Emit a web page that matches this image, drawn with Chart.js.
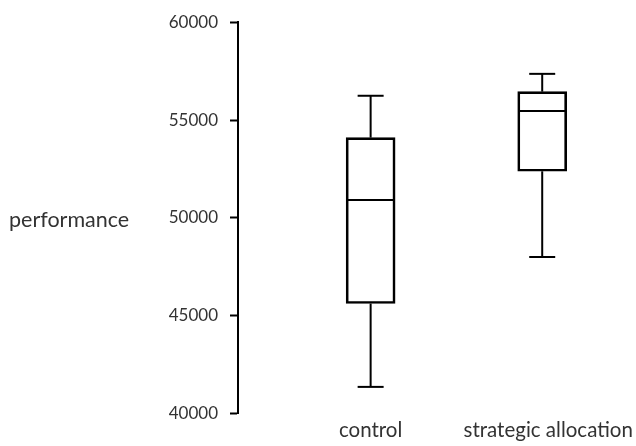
<!DOCTYPE html>
<html>
<head>
<meta charset="utf-8">
<script src="https://cdn.jsdelivr.net/npm/chart.js@4/dist/chart.umd.min.js"></script>
<style>
  html, body { margin: 0; padding: 0; background: #fff; }
  #wrap { width: 636px; height: 446px; position: relative; }
</style>
</head>
<body>
<div id="wrap"><canvas id="c" width="636" height="446"></canvas></div>
<script>
// Groups and their five-number summaries
const categories = ['control', 'strategic allocation'];
const whiskerLow = [41360, 48000];
const q1 = [45620, 52380];
const median = [50910, 55460];
const q3 = [54100, 56450];
const whiskerHigh = [56240, 57360];
const yTicks = [40000, 45000, 50000, 55000, 60000];
const yTitle = 'performance';

const FAMILY = 'Lato, "Open Sans", sans-serif';
const TICK_FONT = { family: FAMILY, size: 17 };
const LABEL_FONT = { family: FAMILY, size: 20.5 };
const TEXT = '#333';

// Whiskers, caps and median lines, drawn on top of the boxes
const boxExtras = {
  id: 'boxExtras',
  afterDatasetsDraw(chart) {
    const { ctx, scales: { x, y } } = chart;
    const boxW = 48, capW = 26;
    ctx.save();
    ctx.strokeStyle = '#000';
    ctx.lineWidth = 2;
    ctx.lineCap = 'butt';
    categories.forEach((_, i) => {
      const cx = x.getPixelForValue(i);
      const seg = (x1, y1, x2, y2) => { ctx.beginPath(); ctx.moveTo(x1, y1); ctx.lineTo(x2, y2); ctx.stroke(); };
      // upper whisker + cap
      seg(cx, y.getPixelForValue(q3[i]), cx, y.getPixelForValue(whiskerHigh[i]));
      seg(cx - capW / 2, y.getPixelForValue(whiskerHigh[i]), cx + capW / 2, y.getPixelForValue(whiskerHigh[i]));
      // lower whisker + cap
      seg(cx, y.getPixelForValue(q1[i]), cx, y.getPixelForValue(whiskerLow[i]));
      seg(cx - capW / 2, y.getPixelForValue(whiskerLow[i]), cx + capW / 2, y.getPixelForValue(whiskerLow[i]));
      // median
      seg(cx - boxW / 2, y.getPixelForValue(median[i]), cx + boxW / 2, y.getPixelForValue(median[i]));
    });
    ctx.restore();
  }
};

// Horizontal y-axis title at the left
const sideTitle = {
  id: 'sideTitle',
  afterDraw(chart) {
    const { ctx, chartArea } = chart;
    ctx.save();
    ctx.font = `21.5px ${FAMILY}`;
    ctx.fillStyle = TEXT;
    ctx.textAlign = 'left';
    ctx.textBaseline = 'middle';
    ctx.fillText(yTitle, 9, (chartArea.top + chartArea.bottom) / 2 + 2);
    ctx.restore();
  }
};

new Chart(document.getElementById('c'), {
  type: 'bar',
  data: {
    datasets: [{
      data: categories.map((_, i) => ({ x: i, y: [q1[i], q3[i]] })),
      backgroundColor: 'rgba(255,255,255,0)',
      borderColor: '#000',
      borderWidth: 2,
      borderSkipped: false,
      barThickness: 49
    }]
  },
  options: {
    responsive: false,
    animation: false,
    layout: { padding: { top: 18, right: 8, left: 0, bottom: 0 } },
    plugins: { legend: { display: false }, tooltip: { enabled: false } },
    scales: {
      x: {
        type: 'linear',
        offset: false,
        min: -0.773,
        max: 1.5,
        grid: { display: false, drawTicks: false },
        border: { display: false },
        // the long second label sits a little right of its box
        afterBuildTicks(scale) { scale.ticks = categories.map((_, i) => ({ value: i + (i === 1 ? 0.035 : 0) })); },
        afterFit(scale) {
          scale.height = 32.5;
          // let the long label run into the right margin instead of shrinking the plot
          scale.paddingLeft = 0;
          scale.paddingRight = 0;
        },
        ticks: {
          autoSkip: false,
          maxRotation: 0,
          padding: 5,
          color: TEXT,
          font: LABEL_FONT,
          callback: (v) => categories[Math.round(v)]
        }
      },
      y: {
        min: 40000,
        max: 60000,
        afterBuildTicks(scale) { scale.ticks = yTicks.map(v => ({ value: v })); },
        afterFit(scale) { scale.width = 238; },
        grid: { display: true, drawOnChartArea: false, drawTicks: true, tickLength: 8, tickWidth: 2, tickColor: '#000' },
        border: { display: true, color: '#000', width: 2 },
        ticks: {
          padding: 12,
          color: TEXT,
          font: TICK_FONT,
          callback: (v) => String(v)
        }
      }
    }
  },
  plugins: [boxExtras, sideTitle]
});
</script>
</body>
</html>
